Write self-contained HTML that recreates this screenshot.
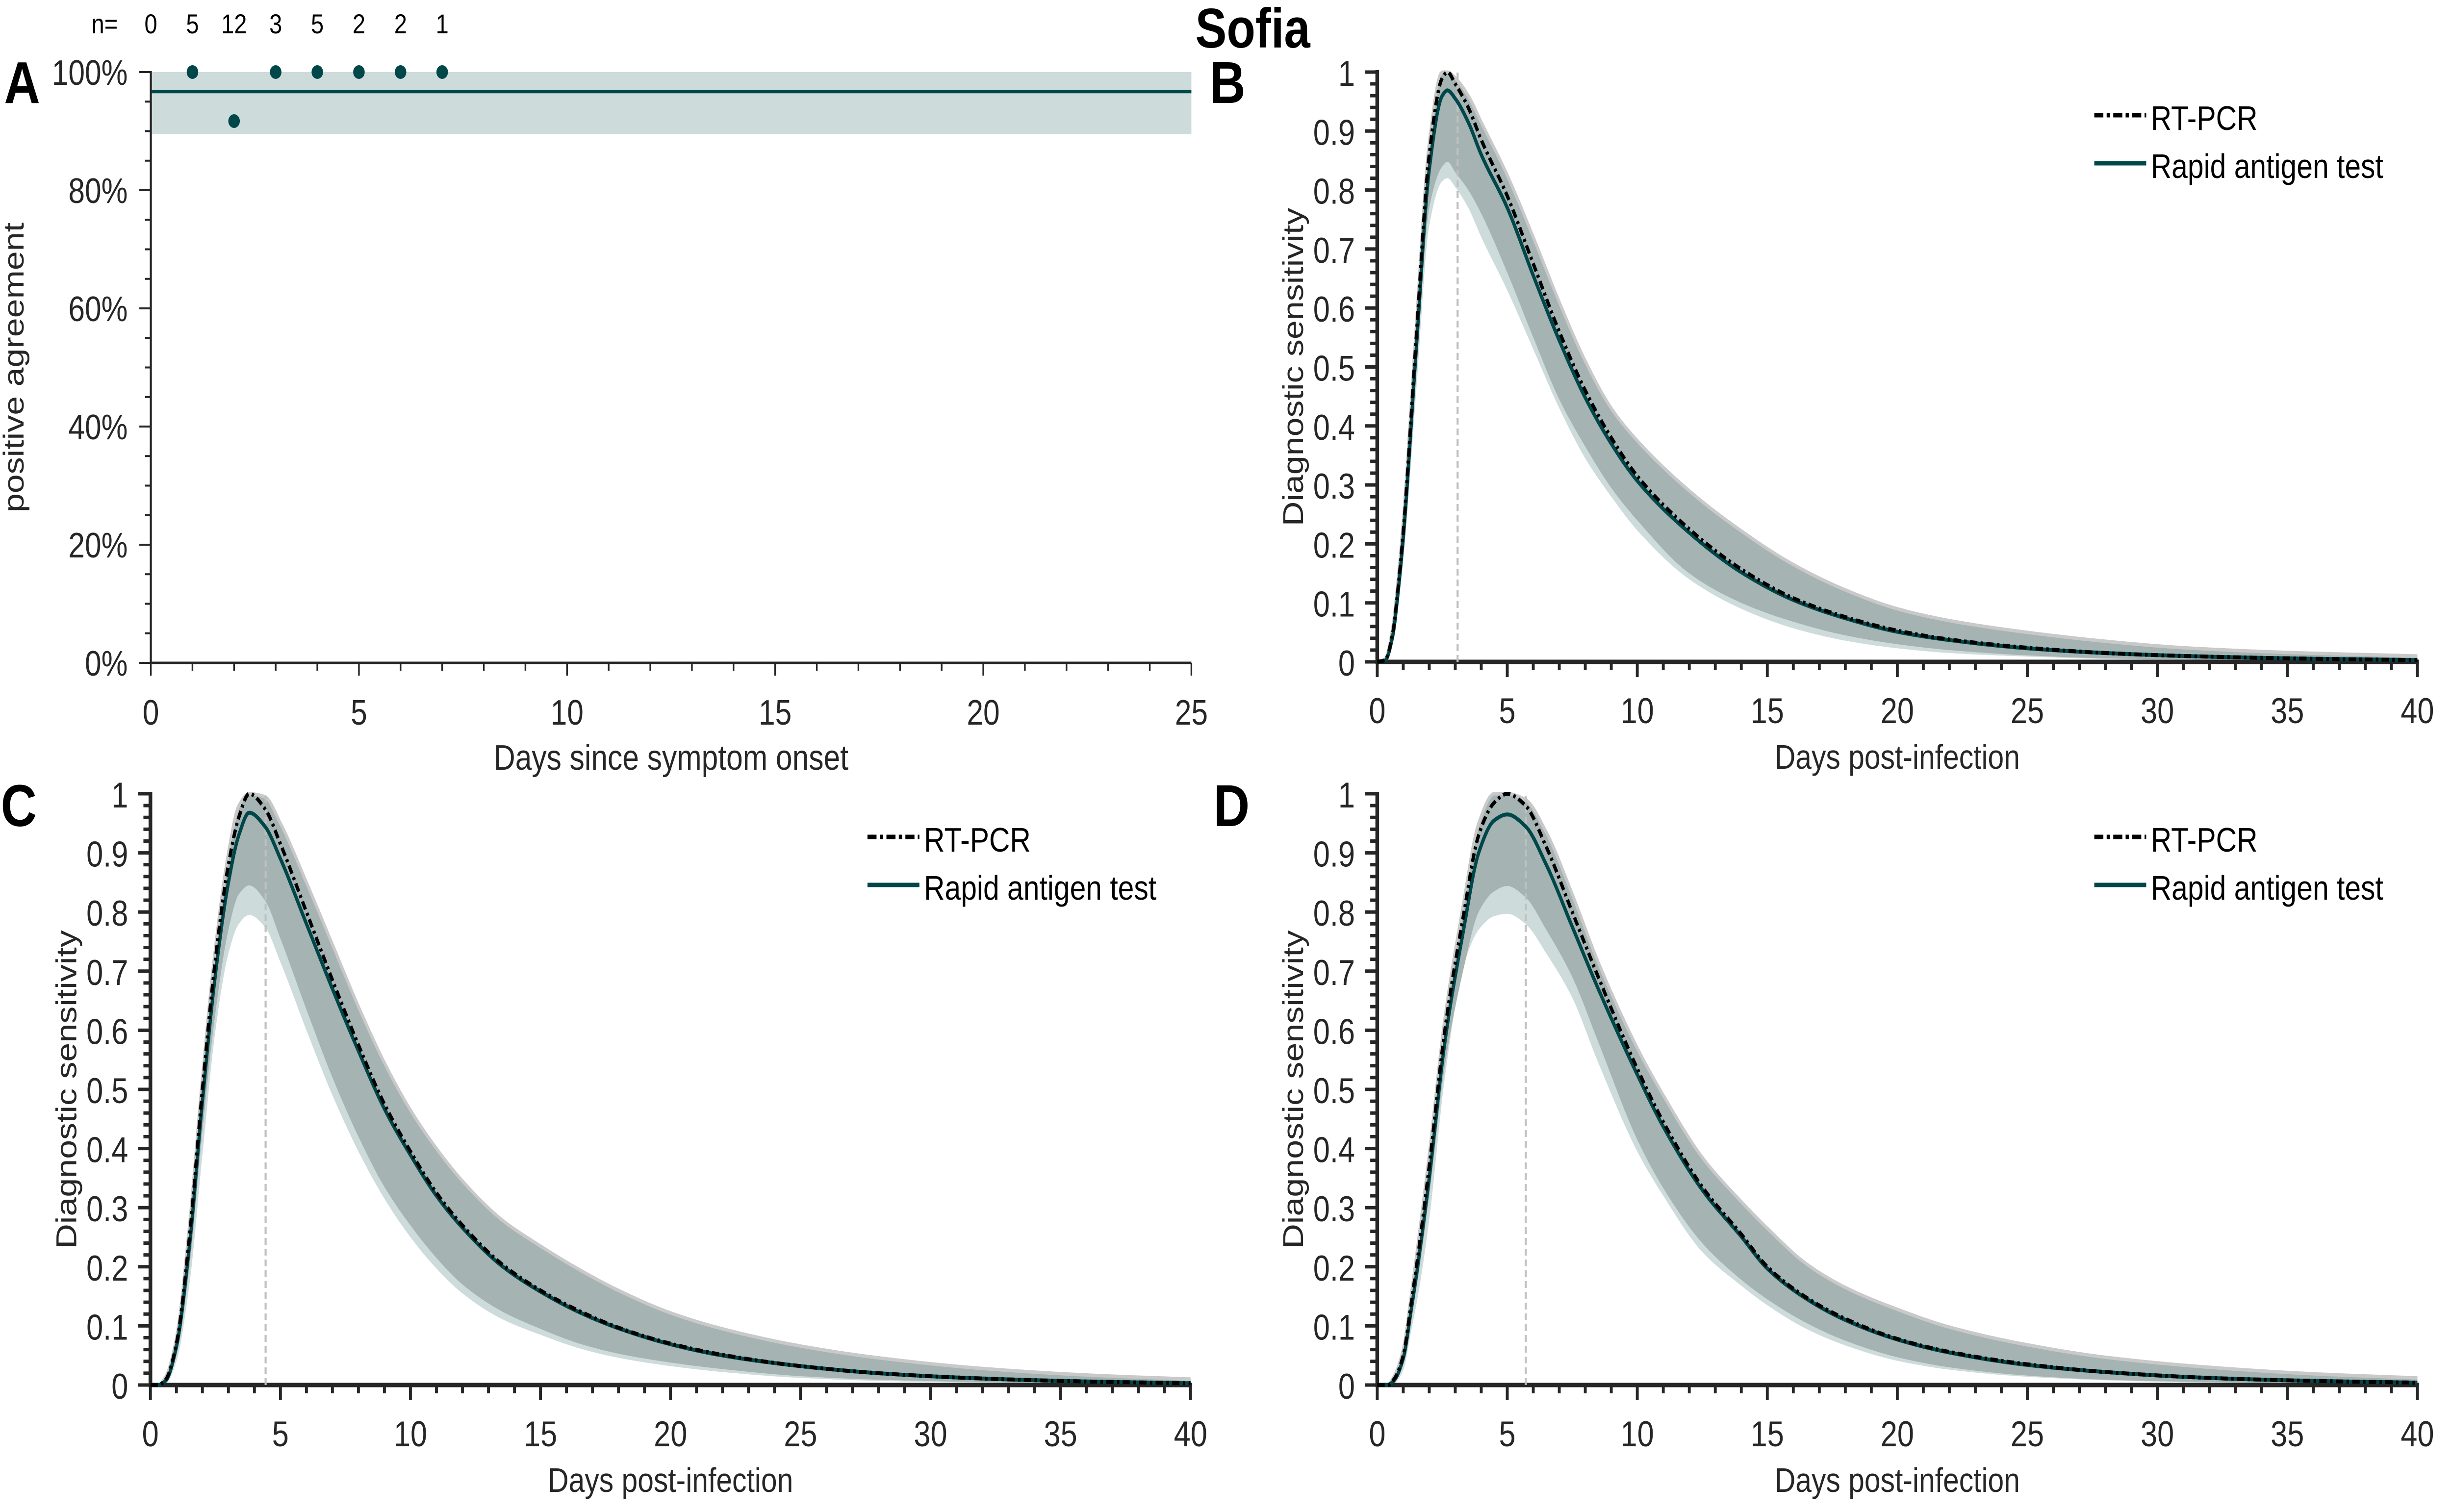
<!DOCTYPE html>
<html><head><meta charset="utf-8"><style>
html,body{margin:0;padding:0;background:#fff;overflow:hidden;width:100%;height:100%;}
svg{display:block;font-family:"Liberation Sans",Arial,sans-serif;width:100vw;height:100vh;}
</style></head><body>
<svg id="fig" viewBox="0 0 5950 3084" preserveAspectRatio="none" xmlns="http://www.w3.org/2000/svg">
<text x="3040" y="97" font-size="114" font-weight="bold" text-anchor="middle" fill="#000">Sofia</text>
<text x="10" y="210" font-size="121" font-weight="bold" fill="#000">A</text>
<text x="2935" y="210" font-size="121" font-weight="bold" fill="#000">B</text>
<text x="2" y="1685" font-size="121" font-weight="bold" fill="#000">C</text>
<text x="2945" y="1685" font-size="121" font-weight="bold" fill="#000">D</text>
</svg>
<script>
// ---- Panel A data ----
const aDays = [1, 2, 3, 4, 5, 6, 7];
const aAgreement = [100, 91.7, 100, 100, 100, 100, 100];
const aNDays = [0, 1, 2, 3, 4, 5, 6, 7];
const aNLabels = ["0", "5", "12", "3", "5", "2", "2", "1"];
const aMean = 96.7;
const aCILow = 89.5;
const aCIHigh = 100;
const aXTicks = [0, 5, 10, 15, 20, 25];
const aYTicks = [0, 20, 40, 60, 80, 100];

// ---- Panel B data ----
const dB = [0,0.3,0.6,0.8,1,1.5,2,2.5,2.7,3,3.5,4,5,6,7,8,9,10,12,14,16,18,20,22,25,28,31,35,40];
const pcrB = [0,0.003,0.05,0.125,0.22,0.55,0.86,0.99,1.0,0.98,0.94,0.885,0.79,0.675,0.56,0.46,0.38,0.315,0.225,0.157,0.108,0.076,0.053,0.038,0.024,0.015,0.01,0.006,0.003];
const ratB = [0,0.002,0.045,0.118,0.21,0.53,0.835,0.96,0.969,0.955,0.915,0.86,0.77,0.655,0.545,0.448,0.37,0.307,0.219,0.152,0.105,0.074,0.051,0.037,0.023,0.015,0.01,0.006,0.003];
const upB = [0,0.004,0.06,0.14,0.24,0.57,0.88,1.0,1.0,0.99,0.96,0.915,0.825,0.72,0.61,0.51,0.43,0.375,0.29,0.222,0.165,0.122,0.09,0.07,0.05,0.035,0.024,0.016,0.01];
const loDB = [0,0.001,0.035,0.1,0.19,0.49,0.77,0.84,0.848,0.83,0.8,0.76,0.66,0.55,0.445,0.365,0.295,0.24,0.15,0.1,0.068,0.045,0.03,0.02,0.011,0.006,0.004,0.002,0.001];
const loLB = [0,0,0.03,0.09,0.17,0.46,0.74,0.815,0.82,0.805,0.77,0.72,0.63,0.53,0.43,0.345,0.28,0.223,0.14,0.09,0.057,0.036,0.023,0.015,0.009,0.005,0.003,0.002,0.001];
const peakLineB = 3.09;

// ---- Panel C data ----
const dC = [0,0.3,0.6,1,1.5,2,2.5,3,3.4,3.8,4.4,5,6,7,8,9,10,11,12,13.5,15,16.5,18,20,22,25,28,32,36,40];
const pcrC = [0,0,0.01,0.07,0.25,0.5,0.72,0.88,0.96,1.0,0.975,0.915,0.8,0.685,0.575,0.475,0.395,0.325,0.27,0.205,0.16,0.125,0.097,0.07,0.051,0.032,0.02,0.011,0.006,0.003];
const ratC = [0,0,0.008,0.065,0.235,0.48,0.695,0.85,0.93,0.968,0.945,0.89,0.78,0.67,0.565,0.467,0.389,0.32,0.266,0.202,0.158,0.123,0.096,0.069,0.05,0.032,0.02,0.011,0.006,0.003];
const upC = [0,0,0.015,0.08,0.27,0.52,0.74,0.9,0.98,1.0,0.995,0.95,0.85,0.745,0.64,0.545,0.465,0.4,0.345,0.28,0.235,0.195,0.16,0.122,0.095,0.066,0.046,0.028,0.017,0.01];
const loDC = [0,0,0.005,0.05,0.2,0.43,0.63,0.77,0.83,0.845,0.82,0.755,0.635,0.52,0.42,0.335,0.27,0.215,0.17,0.125,0.095,0.07,0.053,0.038,0.027,0.015,0.009,0.005,0.003,0.002];
const loLC = [0,0,0.003,0.04,0.17,0.39,0.6,0.73,0.78,0.795,0.775,0.715,0.6,0.49,0.395,0.315,0.25,0.197,0.155,0.112,0.085,0.062,0.046,0.032,0.022,0.012,0.007,0.004,0.002,0.001];
const peakLineC = 4.43;

// ---- Panel D data ----
const dD = [0,0.4,0.65,1,1.3,1.6,2,2.6,3.3,3.9,4.5,5,5.7,6.5,7.5,8.5,10,11,12.5,14,15,16.5,18,20,22,25,28,32,36,40];
const pcrD = [0,0,0.01,0.05,0.136,0.23,0.37,0.6,0.79,0.93,0.985,1.0,0.98,0.91,0.8,0.69,0.535,0.445,0.335,0.255,0.2,0.148,0.112,0.078,0.056,0.035,0.022,0.012,0.007,0.004];
const ratD = [0,0,0.008,0.045,0.125,0.215,0.35,0.58,0.765,0.9,0.955,0.965,0.945,0.88,0.775,0.67,0.525,0.437,0.33,0.251,0.197,0.146,0.11,0.077,0.055,0.034,0.022,0.012,0.007,0.004];
const upD = [0,0,0.015,0.06,0.15,0.25,0.39,0.62,0.81,0.95,1.0,1.0,0.99,0.935,0.83,0.715,0.57,0.49,0.385,0.31,0.265,0.205,0.165,0.128,0.098,0.068,0.047,0.03,0.019,0.012];
const loDD = [0,0,0.005,0.035,0.11,0.19,0.32,0.54,0.7,0.8,0.835,0.844,0.825,0.77,0.69,0.58,0.415,0.333,0.24,0.178,0.145,0.105,0.075,0.047,0.03,0.016,0.009,0.005,0.003,0.002];
const loLD = [0,0,0.003,0.025,0.09,0.16,0.28,0.52,0.705,0.77,0.793,0.797,0.78,0.73,0.655,0.545,0.395,0.32,0.225,0.168,0.135,0.095,0.067,0.041,0.026,0.014,0.008,0.004,0.002,0.001];
const peakLineD = 5.71;

const sensXTicks = [0, 5, 10, 15, 20, 25, 30, 35, 40];
const sensYTicks = [0, 0.1, 0.2, 0.3, 0.4, 0.5, 0.6, 0.7, 0.8, 0.9, 1];
const sensYLabels = ["0", "0.1", "0.2", "0.3", "0.4", "0.5", "0.6", "0.7", "0.8", "0.9", "1"];
const legendLabels = ["RT-PCR", "Rapid antigen test"];

const NS = "http://www.w3.org/2000/svg";
const svg = document.getElementById("fig");
const TEAL = "#00474a", AX = "#262626";

function mk(tag, attrs, parent) {
  const e = document.createElementNS(NS, tag);
  for (const k in attrs) e.setAttribute(k, attrs[k]);
  (parent || svg).appendChild(e);
  return e;
}
function monoSample(xs, ys, step) {
  const n = xs.length, dx = [], m = [], t = new Array(n);
  for (let i = 0; i < n - 1; i++) { dx.push(xs[i + 1] - xs[i]); m.push((ys[i + 1] - ys[i]) / dx[i]); }
  t[0] = m[0]; t[n - 1] = m[n - 2];
  for (let i = 1; i < n - 1; i++) {
    if (m[i - 1] * m[i] <= 0) t[i] = 0;
    else { const w1 = 2 * dx[i] + dx[i - 1], w2 = dx[i] + 2 * dx[i - 1]; t[i] = (w1 + w2) / (w1 / m[i - 1] + w2 / m[i]); }
  }
  const out = [];
  for (let i = 0; i < n - 1; i++) {
    const h = dx[i], k = Math.max(2, Math.ceil(h / step));
    for (let j = 0; j < k; j++) {
      const s = j / k, s2 = s * s, s3 = s2 * s;
      const y = (2 * s3 - 3 * s2 + 1) * ys[i] + (s3 - 2 * s2 + s) * h * t[i] + (-2 * s3 + 3 * s2) * ys[i + 1] + (s3 - s2) * h * t[i + 1];
      out.push([xs[i] + s * h, Math.max(0, y)]);
    }
  }
  out.push([xs[n - 1], ys[n - 1]]);
  return out;
}
function polyD(pts, start) {
  return pts.map((p, i) => (i === 0 ? start : "L") + p[0].toFixed(1) + "," + p[1].toFixed(1)).join("");
}

// ---------- Panel A ----------
(function () {
  const x0 = 366, x1 = 2891, y0 = 1352, y1 = 147;
  const sx = d => x0 + (d / 25) * (x1 - x0);
  const sy = v => y0 - (v / 100) * (y0 - y1);
  const g = mk("g", {});
  
  
  const band = mk("rect", { x: x0, y: sy(aCIHigh), width: x1 - x0, height: sy(aCILow) - sy(aCIHigh), fill: "#cddcdb" }, g);
  
  
  const mean = mk("line", { x1: x0, x2: x1, y1: sy(aMean), y2: sy(aMean), stroke: TEAL, "stroke-width": 7 }, g);
  
  
  const ax = mk("path", { d: `M${x0},${y1 - 2}V${y0}H${x1}`, stroke: AX, "stroke-width": 5, fill: "none" }, g);
  
  
  for (let v = 0; v <= 100; v += 5) {
    const maj = v % 20 === 0;
    const t = mk("line", { x1: x0 - (maj ? 28 : 14), x2: x0, y1: sy(v), y2: sy(v), stroke: AX, "stroke-width": 4 }, g);
    
    
  }
  aYTicks.forEach(v => {
    const t = mk("text", { x: x0 - 56, y: sy(v) + 26, "font-size": 72, "text-anchor": "end", fill: AX }, g);
    t.textContent = v + "%";
    
    
  });
  for (let d = 0; d <= 25; d++) {
    const maj = d % 5 === 0;
    const t = mk("line", { x1: sx(d), x2: sx(d), y1: y0, y2: y0 + (maj ? 26 : 16), stroke: AX, "stroke-width": 4 }, g);
    
    
  }
  aXTicks.forEach(d => {
    const t = mk("text", { x: sx(d), y: y0 + 126, "font-size": 72, "text-anchor": "middle", fill: AX }, g);
    t.textContent = d;
    
    
  });
  const xt = mk("text", { x: (x0 + x1) / 2, y: 1570, "font-size": 72, "text-anchor": "middle", fill: AX }, g);
  xt.textContent = "Days since symptom onset";
  
  
  const yt = mk("text", { x: 0, y: 0, "font-size": 70, "text-anchor": "middle", fill: AX, transform: `translate(57,${(y0 + y1) / 2}) rotate(-90)` }, g);
  yt.textContent = "positive agreement";
  
  
  const nl = mk("text", { x: 222, y: 68, "font-size": 56, fill: "#000" }, g);
  nl.textContent = "n=";
  
  
  aNDays.forEach((d, i) => {
    const t = mk("text", { x: sx(d), y: 68, "font-size": 56, "text-anchor": "middle", fill: "#000" }, g);
    t.textContent = aNLabels[i];
    
    
  });
  aDays.forEach((d, i) => {
    const c = mk("circle", { cx: sx(d), cy: sy(aAgreement[i]), r: 14, fill: TEAL }, g);
    
    
  });
})();

// ---------- Sensitivity panels ----------
function sensPanel(name, x0, y0, y1, days, pcr, rat, up, loD, loL, peakDay) {
  const x1 = x0 + 2524;
  const sx = d => x0 + (d / 40) * (x1 - x0);
  const sy = v => y0 - v * (y0 - y1);
  const g = mk("g", {});
  
  
  const P = arr => monoSample(days, arr, 0.05).map(p => [sx(p[0]), sy(p[1])]);
  const upP = P(up), loDP = P(loD).reverse(), loLP = P(loL).reverse();
  const light = mk("path", { d: polyD(upP, "M") + polyD(loLP, "L") + "Z", fill: "#cddcdb", stroke: "none" }, g);
  
  
  const dark = mk("path", { d: polyD(upP, "M") + polyD(loDP, "L") + "Z", fill: "#a5b3b2", stroke: "none" }, g);
  
  
  const edge = mk("path", { d: polyD(upP, "M"), fill: "none", stroke: "#c9c9c9", "stroke-width": 7 }, g);
  
  
  const ax = mk("path", { d: `M${x0},${y1 - 4}V${y0}H${x1 + 4}`, stroke: AX, "stroke-width": 9, fill: "none" }, g);
  
  
  for (let k = 0; k <= 50; k++) {
    const v = k / 50, maj = k % 5 === 0;
    const t = mk("line", { x1: x0 - (maj ? 30 : 17), x2: x0, y1: sy(v), y2: sy(v), stroke: AX, "stroke-width": 7 }, g);
    
    
  }
  sensYTicks.forEach((v, i) => {
    const t = mk("text", { x: x0 - 54, y: sy(v) + 28, "font-size": 73, "text-anchor": "end", fill: AX }, g);
    t.textContent = sensYLabels[i];
    
    
  });
  for (let d = 0; d <= 40; d++) {
    const maj = d % 5 === 0;
    const t = mk("line", { x1: sx(d), x2: sx(d), y1: y0, y2: y0 + (maj ? 31 : 17), stroke: AX, "stroke-width": 7 }, g);
    
    
  }
  sensXTicks.forEach(d => {
    const t = mk("text", { x: sx(d), y: y0 + 125, "font-size": 73, "text-anchor": "middle", fill: AX }, g);
    t.textContent = d;
    
    
  });
  const xt = mk("text", { x: (x0 + x1) / 2, y: y0 + 218, "font-size": 70, "text-anchor": "middle", fill: AX }, g);
  xt.textContent = "Days post-infection";
  
  
  const yt = mk("text", { x: 0, y: 0, "font-size": 70, "text-anchor": "middle", fill: AX, transform: `translate(${x0 - 180},${(y0 + y1) / 2}) rotate(-90)` }, g);
  yt.textContent = "Diagnostic sensitivity";
  
  
  const vl = mk("line", { x1: sx(peakDay), x2: sx(peakDay), y1: y0, y2: y1, stroke: "#c0c0c0", "stroke-width": 5, "stroke-dasharray": "14 8" }, g);
  
  
  const rl = mk("path", { d: polyD(P(rat), "M"), fill: "none", stroke: TEAL, "stroke-width": 8, "stroke-linejoin": "round" }, g);
  
  
  const pl = mk("path", { d: polyD(P(pcr), "M"), fill: "none", stroke: "#000", "stroke-width": 8, "stroke-dasharray": "18 8 6 8" }, g);
  
  
  const lg = mk("g", {}, g);
  
  
  const l1 = mk("line", { x1: x0 + 1740, x2: x0 + 1866, y1: y1 + 88, y2: y1 + 88, stroke: "#000", "stroke-width": 9, "stroke-dasharray": "22 8 8 8" }, lg);
  
  
  const t1 = mk("text", { x: x0 + 1877, y: y1 + 118, "font-size": 70, fill: "#000" }, lg);
  t1.textContent = legendLabels[0];
  
  
  const l2 = mk("line", { x1: x0 + 1740, x2: x0 + 1866, y1: y1 + 186, y2: y1 + 186, stroke: TEAL, "stroke-width": 9 }, lg);
  
  
  const t2 = mk("text", { x: x0 + 1877, y: y1 + 216, "font-size": 70, fill: "#000" }, lg);
  t2.textContent = legendLabels[1];
  
  
}
sensPanel("panel-b", 3342, 1350, 147, dB, pcrB, ratB, upB, loDB, loLB, peakLineB);
sensPanel("panel-c", 365, 2825, 1619, dC, pcrC, ratC, upC, loDC, loLC, peakLineC);
sensPanel("panel-d", 3342, 2825, 1619, dD, pcrD, ratD, upD, loDD, loLD, peakLineD);
</script>
</body></html>
